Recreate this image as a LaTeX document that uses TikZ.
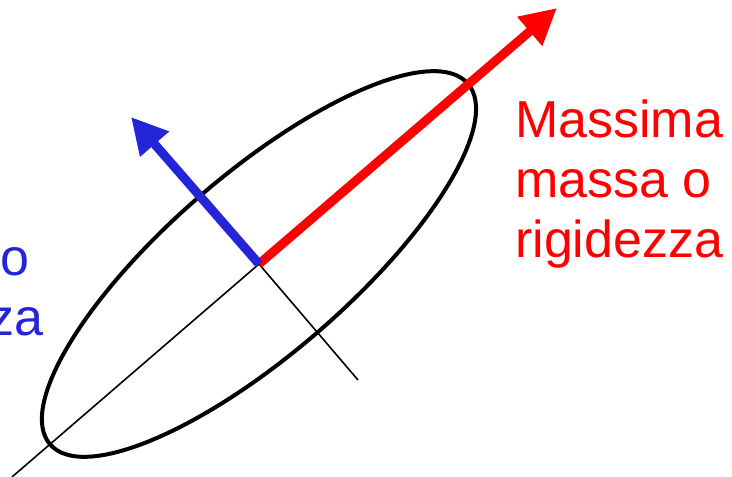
\documentclass[tikz,border=0pt]{standalone}
\usepackage{fontspec}
\setmainfont{Liberation Sans}
\usetikzlibrary{arrows.meta}

\begin{document}
\begin{tikzpicture}[
  x=1pt, y=-1pt,
  axisline/.style={draw=black, line width=1.6pt},
  outline/.style={draw=black, line width=4pt},
  mainarrow/.style={line width=9pt, -{Triangle[length=36pt, width=36pt]}},
  labeltext/.style={font=\fontsize{52}{60}\selectfont, inner sep=0pt, align=left},
]

\definecolor{maxRed}{RGB}{255,0,0}
\definecolor{minBlue}{RGB}{36,36,216}

\useasboundingbox (0,0) rectangle (732,477);

% Centre and axis ends.
\coordinate (ctr) at (259,264);
\coordinate (majorEnd) at (12,477);
\coordinate (minorEnd) at (358,380);
\coordinate (maxTip) at (557,8);
\coordinate (minTip) at (131,117);

% Thin axes.
\draw[axisline] (ctr) -- (majorEnd);
\draw[axisline] (ctr) -- (minorEnd);

% Ellipse.
\draw[outline, rotate around={40.8:(ctr)}] (ctr) ellipse [x radius=276, y radius=90];

% Arrows.
\draw[mainarrow, maxRed] (ctr) -- (maxTip);
\draw[mainarrow, minBlue] (ctr) -- (minTip);

% Labels.
\node[labeltext, text=maxRed, anchor=base west] (maxLabel) at (515,257) {Massima\\massa o\\rigidezza};
\node[labeltext, text=minBlue, anchor=base east] (minLabelA) at (30,275) {o};
\node[labeltext, text=minBlue, anchor=base east] (minLabelB) at (43.5,335) {za};

\end{tikzpicture}
\end{document}
